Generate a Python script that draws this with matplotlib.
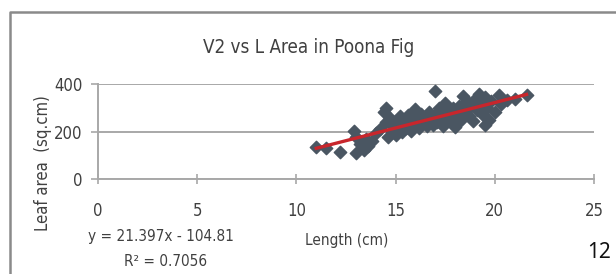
import matplotlib.pyplot as plt
import matplotlib.lines as mlines
import numpy as np

# leaf length (cm) vs leaf area (sq.cm)
length_cm = [11.0, 11.5, 12.2, 12.9, 13.0, 13.0, 13.2, 13.4, 13.5, 13.6,
             13.8, 14.0, 14.2, 14.4, 14.5, 14.5, 14.6, 14.7, 14.8, 14.9,
             15.0, 15.1, 15.2, 15.3, 15.4, 15.5, 15.6, 15.7, 15.8, 15.9,
             16.0, 16.0, 16.1, 16.2, 16.3, 16.4, 16.5, 16.6, 16.7, 16.8,
             16.9, 17.0, 17.0, 17.1, 17.2, 17.3, 17.4, 17.5, 17.6, 17.7,
             17.8, 17.9, 18.0, 18.1, 18.2, 18.3, 18.4, 18.5, 18.6, 18.7,
             18.8, 18.9, 19.0, 19.1, 19.2, 19.3, 19.4, 19.5, 19.5, 19.6,
             19.7, 19.8, 20.0, 20.2, 20.3, 20.6, 21.0, 21.6]
leaf_area = [135, 130, 115, 205, 110, 180, 150, 125, 170, 140,
             160, 195, 210, 285, 300, 240, 180, 260, 200, 220,
             185, 250, 265, 200, 230, 215, 270, 245, 205, 260,
             295, 230, 250, 215, 275, 240, 260, 225, 285, 250,
             230, 370, 270, 240, 300, 255, 225, 320, 280, 260,
             240, 300, 220, 270, 310, 250, 350, 290, 330, 265,
             310, 245, 340, 290, 360, 320, 270, 230, 345, 300,
             250, 330, 285, 355, 315, 335, 340, 355]

slope = 21.397
intercept = -104.81
r_squared = 0.7056
xticks = [0, 5, 10, 15, 20, 25]
yticks = [0, 200, 400]

plt.rcParams['font.family'] = 'DejaVu Sans'
plt.rcParams['font.stretch'] = 'condensed'
txt = '#404040'

fig = plt.figure(figsize=(6.16, 2.74), dpi=100)
ax = fig.add_axes([98 / 616, 1 - 179.3 / 274, (594 - 98) / 616, (179.3 - 84.3) / 274])

ax.scatter(length_cm, leaf_area, marker='D', s=40, color='#4a5662', zorder=3)
xs = np.array([min(length_cm), max(length_cm)])
ax.plot(xs, slope * xs + intercept, color='#c8262c', lw=2.4, zorder=4)

ax.set_xlim(0, 25)
ax.set_ylim(0, 400)
ax.set_xticks(xticks)
ax.set_yticks(yticks)
ax.yaxis.grid(True, color='#a8a8a8', lw=1.4)
ax.set_axisbelow(True)
for s in ['top', 'right']:
    ax.spines[s].set_visible(False)
for s in ['left', 'bottom']:
    ax.spines[s].set_color('#a8a8a8')
    ax.spines[s].set_linewidth(1.4)
ax.tick_params(axis='x', direction='inout', length=7, color='#a8a8a8', width=1.2,
               labelsize=12, labelcolor=txt, pad=13)
ax.tick_params(axis='y', direction='out', length=5, color='#a8a8a8', width=1.2,
               labelsize=12, labelcolor=txt, pad=6)

fig.text(309 / 616, 1 - 47 / 274, 'V2 vs L Area in Poona Fig', ha='center', va='center',
         fontsize=13.5, color=txt)
fig.text(43 / 616, 1 - 163 / 274, 'Leaf area  (sq.cm)', ha='center', va='center',
         rotation=90, fontsize=12, color=txt)
fig.text(347 / 616, 1 - 240 / 274, 'Length (cm)', ha='center', va='center',
         fontsize=11, color=txt)
fig.text(161 / 616, 1 - 237 / 274, f'y = {slope}x - {abs(intercept)}', ha='center',
         va='center', fontsize=11, color=txt)
fig.text(166 / 616, 1 - 262 / 274, f'R\u00b2 = {r_squared}', ha='center', va='center',
         fontsize=11, color=txt)
fig.text(599 / 616, 1 - 252 / 274, '12', ha='center', va='center', fontsize=15,
         color='#111111', family='Noto Sans', stretch='normal')

# chart area frame
fig.add_artist(mlines.Line2D([10 / 616, 10 / 616, 1], [0, 1 - 12 / 274, 1 - 12 / 274],
                             transform=fig.transFigure, color='#8a8a8a', lw=1.8))

fig.savefig('out.png', dpi=100)
